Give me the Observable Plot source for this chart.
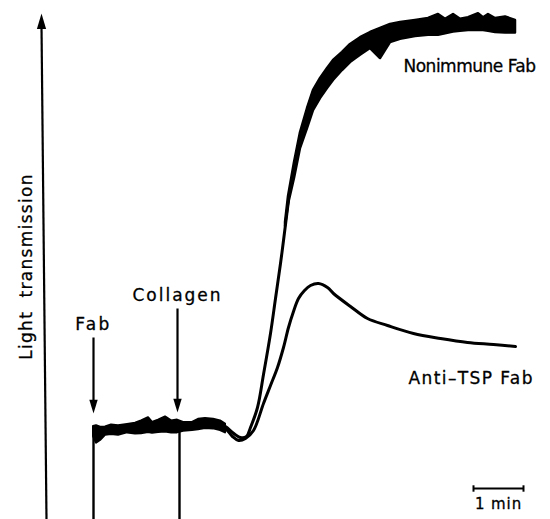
<!DOCTYPE html>
<html><head><meta charset="utf-8">
<script src="https://cdn.jsdelivr.net/npm/d3@7"></script>
<script src="https://cdn.jsdelivr.net/npm/@observablehq/plot@0.6"></script>
<style>html,body{margin:0;padding:0;background:#fff}</style>
</head><body><div id="chart"></div>
<script>
// time: minutes after Fab addition; transmission: % of full aggregation (baseline = 0)
const baselineT  = [0.00,0.06,0.14,0.24,0.36,0.50,0.68,0.84,0.96,1.10,1.18,1.30,1.44,1.56,1.68,1.80,1.98,2.10,2.24,2.40,2.54,2.64];
const baselineLo = [-1.5,-3.2,-2.5,-1.2,-1.0,-1.2,-0.6,-0.9,-0.8,-0.5,-0.7,-0.5,-0.4,-0.6,-0.6,-0.2,0.0,0.2,0.5,0.4,0.0,-0.6];
const baselineHi = [1.0,1.2,0.8,0.9,1.4,1.2,1.5,1.8,2.4,3.2,2.0,2.6,3.4,2.4,2.6,2.0,2.0,2.8,3.0,2.8,2.4,1.6];

const nonimmuneT = [2.50,2.64,2.78,2.94,3.06,3.14,3.28,3.40,3.54,3.64,3.74,3.80,3.90];
const nonimmuneV = [1.5,1.0,-0.5,-1.75,-1.5,0.75,5.75,14,24.25,33,41.75,47.5,57.5];
const nonimmuneBandT  = [3.84,3.90,4.02,4.14,4.28,4.40,4.54,4.68,4.80,4.98,5.14,5.34,5.54,5.74,5.94,6.14,6.44,6.70,6.90,7.04,7.20,7.34,7.50,7.70,7.80,7.90,8.04,8.24,8.44];
const nonimmuneBandLo = [51,56.5,63,70.5,75.5,80,83,85.5,87.5,90,92,93.8,95.5,93,97,97.8,98.5,98.8,98.8,99.2,99.6,99.8,100,100,100,99.8,99.5,99.4,99.4];
const nonimmuneBandHi = [52,58.5,67,74.5,80.5,85,88,90.5,92.5,94.5,96.5,98.2,99.5,100.5,101.5,102,102.5,103,104,102.8,104,102.8,103.2,104.2,103.2,104,103,103.4,102.5];

const antiTspT = [2.50,2.64,2.78,2.90,3.04,3.20,3.40,3.54,3.68,3.80,3.90,4.00,4.10,4.22,4.34,4.50,4.68,4.80,5.14,5.48,5.88,6.40,6.94,7.48,8.00,8.44];
const antiTspV = [1.5,0.5,-1.5,-2.5,-2.0,0,6.75,11.25,15.75,20.75,25.75,29.75,33,35,36.25,36.75,35.75,34.25,31,28,26.25,24.25,23,22,21.5,21];

const eventNames  = ["Fab", "Collagen"];
const eventArrowT = [0, 1.68];
const eventLineT  = [0, 1.72];
const eventArrowTop = [23.25, 30.5];
const eventArrowTip = [4.25, 4.5];
const eventLabelV   = [26.6, 33.75];
const eventTraceV   = [0.5, 0.5];

const seriesLabels = ["Nonimmune Fab", "Anti\u2013TSP Fab"];
const seriesLabelT = [6.2, 6.3];
const seriesLabelV = [91, 13];

const yAxisT = [-0.94, -1.04];
const yAxisV = [-22.25, 104.25];
const yTitle = "Light  transmission";
const scaleBarT = [7.6, 8.6];
const scaleBarV = -14.5;
const scaleBarLabel = "1 min";

const tMin = -1.86, tMax = 9.14, vMin = -22.25, vMax = 107.5;

const zip = (a, b) => a.map((x, i) => ({t: x, v: b[i]}));
const baseline = baselineT.map((t, i) => ({t, lo: baselineLo[i], hi: baselineHi[i]}));
const band = nonimmuneBandT.map((t, i) => ({t, lo: nonimmuneBandLo[i], hi: nonimmuneBandHi[i]}));
const nonThin = zip(nonimmuneT, nonimmuneV);
const anti = zip(antiTspT, antiTspV);
const events = eventNames.map((name, i) => ({name, ta: eventArrowT[i], tl: eventLineT[i], top: eventArrowTop[i], tip: eventArrowTip[i], lv: eventLabelV[i], tv: eventTraceV[i]}));
const slabels = seriesLabels.map((s, i) => ({s, t: seriesLabelT[i], v: seriesLabelV[i]}));

const headDown = {draw(ctx, size) { const r = Math.sqrt(size / Math.PI); ctx.moveTo(0, 0); ctx.lineTo(-0.4 * r, -1.3 * r); ctx.lineTo(0.4 * r, -1.3 * r); ctx.closePath(); }};
const headUp = {draw(ctx, size) { const r = Math.sqrt(size / Math.PI); ctx.moveTo(0, 0); ctx.lineTo(-0.42 * r, 1.4 * r); ctx.lineTo(0.42 * r, 1.4 * r); ctx.closePath(); }};

const font = "DejaVu Sans, sans-serif";
const txt = {fill: "black", stroke: "black", strokeWidth: 0.3};
const chart = Plot.plot({
  width: 550, height: 519,
  marginTop: 0, marginRight: 0, marginBottom: 0, marginLeft: 0,
  x: {domain: [tMin, tMax], axis: null},
  y: {domain: [vMin, vMax], axis: null},
  style: {background: "#fff", fontFamily: font},
  marks: [
    // y axis arrow
    Plot.link([0], {x1: yAxisT[0], y1: yAxisV[0], x2: yAxisT[1], y2: yAxisV[1] - 3, stroke: "black", strokeWidth: 2.2}),
    Plot.dot([0], {x: yAxisT[1], y: yAxisV[1], symbol: headUp, r: 11, fill: "black", stroke: "none"}),
    Plot.text([yTitle], {x: -1.34, y: 41, text: d => d, rotate: -90, fontSize: 17, ...txt}),
    // event marks
    Plot.link(events, {x1: "ta", x2: "ta", y1: "top", y2: d => d.tip + 2, stroke: "black", strokeWidth: 2.2}),
    Plot.dot(events, {x: "ta", y: "tip", symbol: headDown, r: 10.5, fill: "black", stroke: "none"}),
    Plot.link(events, {x1: "tl", x2: "tl", y1: "tv", y2: vMin, stroke: "black", strokeWidth: 2.4}),
    Plot.text(events, {x: "ta", y: "lv", text: "name", fontSize: 17, ...txt}),
    // traces
    Plot.areaY(baseline, {x: "t", y1: "lo", y2: "hi", fill: "black", stroke: "black", strokeWidth: 2}),
    Plot.line(anti, {x: "t", y: "v", stroke: "black", strokeWidth: 3, curve: "catmull-rom"}),
    Plot.line(nonThin, {x: "t", y: "v", stroke: "black", strokeWidth: 3, curve: "catmull-rom"}),
    Plot.areaY(band, {x: "t", y1: "lo", y2: "hi", fill: "black", stroke: "black", strokeWidth: 2.5, strokeLinejoin: "round"}),
    Plot.text(slabels, {x: "t", y: "v", text: "s", textAnchor: "start", fontSize: 17, ...txt}),
    // scale bar
    Plot.link([0], {x1: scaleBarT[0], x2: scaleBarT[1], y1: scaleBarV, y2: scaleBarV, stroke: "black", strokeWidth: 2}),
    Plot.link(scaleBarT, {x1: d => d, x2: d => d, y1: scaleBarV - 0.8, y2: scaleBarV + 0.8, stroke: "black", strokeWidth: 2}),
    Plot.text([scaleBarLabel], {x: (scaleBarT[0] + scaleBarT[1]) / 2, y: scaleBarV - 4, text: d => d, fontSize: 15, ...txt})
  ]
});
const spacing = {"Fab": "2.3", "Collagen": "2", "Nonimmune Fab": "-0.5", "Anti\u2013TSP Fab": "1.4", "Light  transmission": "1.3", "1 min": "0.9"};
chart.querySelectorAll("text").forEach(t => { const s = spacing[t.textContent]; if (s) t.setAttribute("letter-spacing", s); });
document.getElementById("chart").appendChild(chart);
</script>
</body></html>
